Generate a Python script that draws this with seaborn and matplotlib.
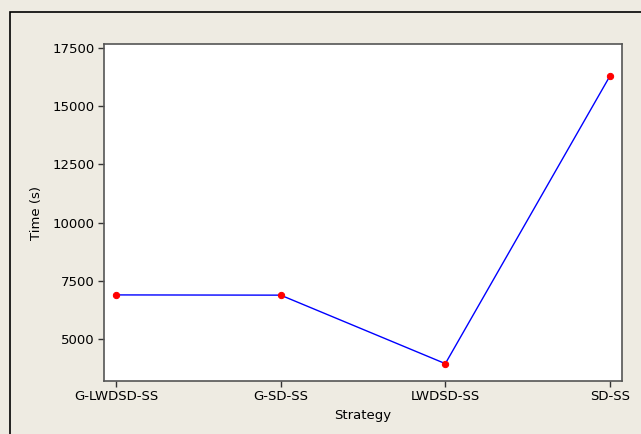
import matplotlib
matplotlib.use("Agg")
import matplotlib.pyplot as plt
import seaborn as sns
import pandas as pd
from matplotlib.patches import Rectangle

strategies = ["G-LWDSD-SS", "G-SD-SS", "LWDSD-SS", "SD-SS"]
times = [6900, 6890, 3950, 16300]
yticks = [5000, 7500, 10000, 12500, 15000, 17500]

sns.set_style("white")
plt.rcParams["font.family"] = ["DejaVu Sans"]
plt.rcParams["text.color"] = "black"
plt.rcParams["axes.labelcolor"] = "black"

bg = "#EEEBE2"
fig = plt.figure(figsize=(6.41, 4.34), dpi=100, facecolor=bg)
ax = fig.add_axes([104/641, 1-381/434, (622-104)/641, (381-44)/434])
ax.set_facecolor("white")

df = pd.DataFrame({"Strategy": strategies, "Time (s)": times})
sns.lineplot(data=df, x="Strategy", y="Time (s)", sort=False, ax=ax,
             color="#0000FF", linewidth=1.0, marker="o", markersize=4.5,
             markerfacecolor="#FF0000", markeredgecolor="#FF0000")

ax.set_xlim(-0.073, 3.073)
ax.set_ylim(3205, 17670)
ax.set_yticks(yticks)
ax.set_yticklabels([str(v) for v in yticks])
ax.tick_params(axis="both", direction="out", length=4, width=1, color="#333333",
               labelsize=9.5, labelcolor="black", pad=2.5, left=True, bottom=True)
for s in ax.spines.values():
    s.set_color("#555555")
    s.set_linewidth(1.2)
ax.set_xlabel("Strategy", fontsize=9.5, labelpad=4, color="black")
ax.set_ylabel("Time (s)", fontsize=9.5, labelpad=7, color="black")

fig.patches.append(Rectangle((10/641, -0.1), 1.2, 1 - 12/434 + 0.1, transform=fig.transFigure,
                             fill=False, edgecolor="black", linewidth=1.2, zorder=-1))

fig.savefig("out.png", dpi=100, facecolor=bg)
